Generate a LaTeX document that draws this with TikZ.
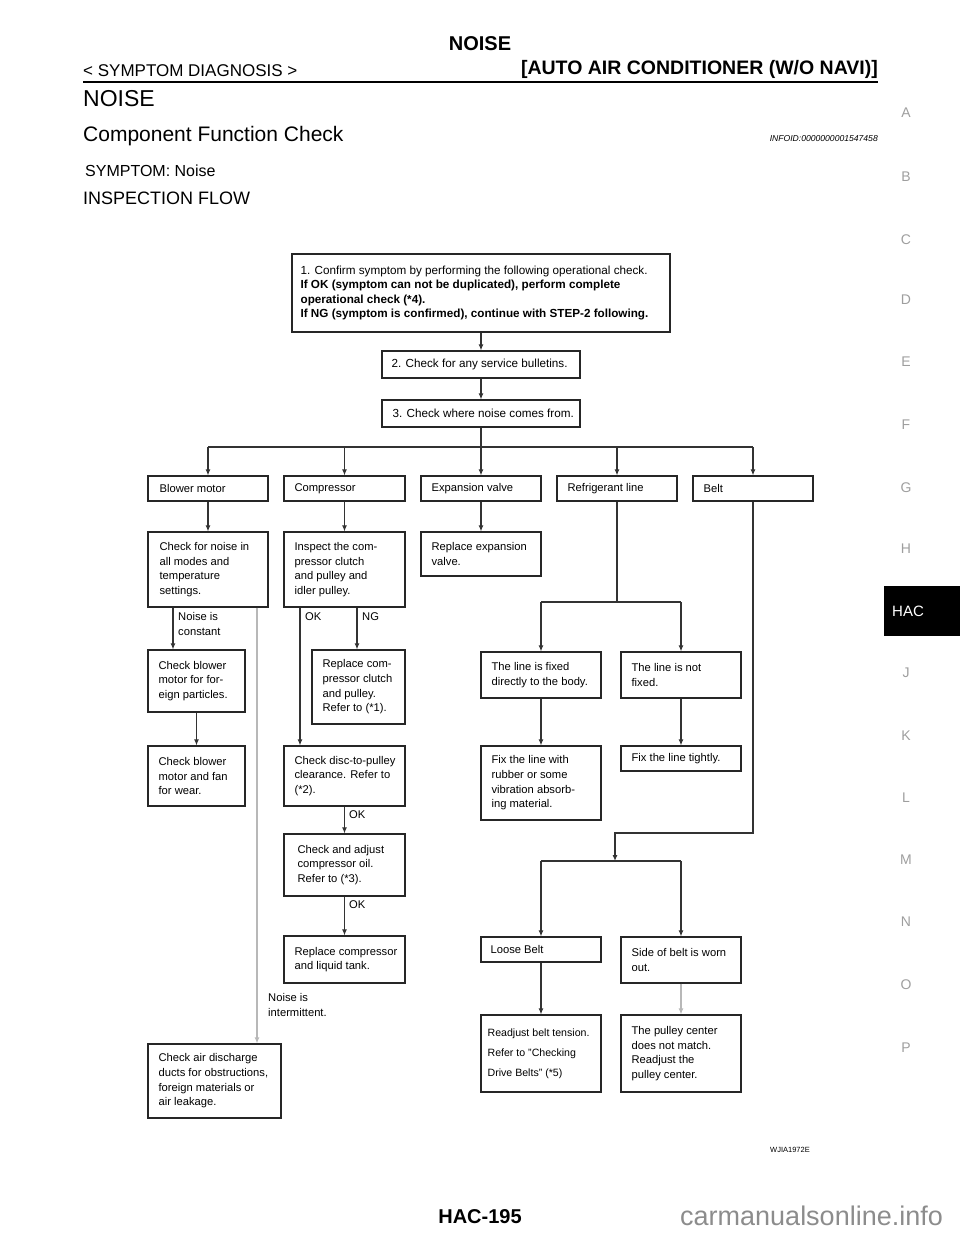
\documentclass[tikz,border=0pt]{standalone}
\usepackage{fontspec}
\setmainfont{Liberation Sans}
\usetikzlibrary{positioning,arrows.meta}

\begin{document}
\begin{tikzpicture}[x=1pt,y=-1pt,line join=miter,>={Latex[length=6pt,width=5pt]}]
  \tikzset{
    pagetext/.style={inner sep=0pt},
    flowbox/.style={draw=black!85,line width=1.2pt,inner sep=0pt},
    boxtext/.style={inner sep=0pt,align=left,font=\fontsize{11.2}{14.7}\selectfont},
    steptext/.style={boxtext,font=\fontsize{11.7}{14.6}\selectfont},
    flowline/.style={draw=black!80,line width=1.1pt},
    greyline/.style={draw=black!28,line width=1.1pt},
    sidetab/.style={text=black!38,font=\fontsize{14}{14}\selectfont},
  }
  \useasboundingbox (0,0) rectangle (960,1242);

  % ==================== header ====================
  \node[pagetext,anchor=base,font=\bfseries\fontsize{20}{20}\selectfont] (pgtitle) at (480,50.5) {NOISE};
  \node[pagetext,anchor=base west,font=\fontsize{17}{17}\selectfont] (section) at (83,76) {< SYMPTOM DIAGNOSIS >};
  \node[pagetext,anchor=base east,font=\bfseries\fontsize{19.5}{19.5}\selectfont] (manual) at (878,74) {[AUTO AIR CONDITIONER (W/O NAVI)]};
  \draw[line width=2.4pt] (83,82) -- (878,82);
  \node[pagetext,anchor=base west,font=\fontsize{23}{23}\selectfont] (noisehead) at (83,106) {NOISE};
  \node[pagetext,anchor=base west,font=\fontsize{21}{21}\selectfont] (cfc) at (83,141.5) {Component Function Check};
  \node[pagetext,anchor=base east,font=\itshape\fontsize{8.6}{8.6}\selectfont] (infoid) at (878,141) {INFOID:0000000001547458};
  \node[pagetext,anchor=base west,font=\fontsize{16}{16}\selectfont] (symptom) at (85,176) {SYMPTOM: Noise};
  \node[pagetext,anchor=base west,font=\fontsize{18}{18}\selectfont] (inspflow) at (83,204.5) {INSPECTION FLOW};

  % ==================== side tabs ====================
  \foreach \tabletter/\ty in {A/113,B/177,C/240,D/300,E/362,F/425,G/488,H/549,J/673,K/736,L/798,M/860,N/922,O/985,P/1048}
    \node[sidetab] (tab\tabletter) at (906,\ty) {\tabletter};
  \fill[black] (884,586) rectangle (960,636);
  \node[text=white,font=\fontsize{15}{15}\selectfont] (tabHAC) at (908,611) {HAC};

  % ==================== steps 1-3 ====================
  \node[flowbox,minimum width=378,minimum height=78] (step1) at (481,293) {};
  \node[steptext,right=9pt of step1.west] (step1txt)
    {1. Confirm symptom by performing the following operational check.\\
     \textbf{If OK (symptom can not be duplicated), perform complete}\\
     \textbf{operational check (*4).}\\
     \textbf{If NG (symptom is confirmed), continue with STEP-2 following.}};
  \node[flowbox,minimum width=198,minimum height=27] (step2) at (481,364.5) {};
  \node[steptext,right=10pt of step2.west] (step2txt) {2. Check for any service bulletins.};
  \node[flowbox,minimum width=198,minimum height=27] (step3) at (481,413.5) {};
  \node[steptext,right=11pt of step3.west] (step3txt) {3. Check where noise comes from.};

  % ==================== noise sources ====================
  \node[flowbox,minimum width=120,minimum height=25] (blower) at (208,488.5) {};
  \node[boxtext,right=12pt of blower.west] (blowertxt) {Blower motor};
  \node[flowbox,minimum width=121,minimum height=25] (comp) at (344.5,488.5) {};
  \node[boxtext,right=11pt of comp.west] (comptxt) {Compressor};
  \node[flowbox,minimum width=120,minimum height=25] (expv) at (481,488.5) {};
  \node[boxtext,right=11pt of expv.west] (expvtxt) {Expansion valve};
  \node[flowbox,minimum width=120,minimum height=25] (refl) at (617,488.5) {};
  \node[boxtext,right=11pt of refl.west] (refltxt) {Refrigerant line};
  \node[flowbox,minimum width=120,minimum height=25] (belt) at (753,488.5) {};
  \node[boxtext,right=11pt of belt.west] (belttxt) {Belt};

  % ==================== blower motor ====================
  \node[flowbox,minimum width=120,minimum height=75] (noisechk) at (208,569.5) {};
  \node[boxtext,right=12pt of noisechk.west] (noisechktxt) {Check for noise in\\all modes and\\temperature\\settings.};
  \node[flowbox,minimum width=97,minimum height=62] (particles) at (196.5,681) {};
  \node[boxtext,right=11pt of particles.west] (particlestxt) {Check blower\\motor for for-\\eign particles.};
  \node[flowbox,minimum width=97,minimum height=60] (wear) at (196.5,776) {};
  \node[boxtext,right=11pt of wear.west] (weartxt) {Check blower\\motor and fan\\for wear.};
  \node[flowbox,minimum width=133,minimum height=74] (airduct) at (214.5,1081) {};
  \node[boxtext,right=11pt of airduct.west] (airducttxt) {Check air discharge\\ducts for obstructions,\\foreign materials or\\air leakage.};

  % ==================== compressor ====================
  \node[flowbox,minimum width=121,minimum height=75] (inspect) at (344.5,569.5) {};
  \node[boxtext,right=11pt of inspect.west] (inspecttxt) {Inspect the com-\\pressor clutch\\and pulley and\\idler pulley.};
  \node[flowbox,minimum width=93,minimum height=74] (replclutch) at (358.5,687) {};
  \node[boxtext,right=11pt of replclutch.west] (replclutchtxt) {Replace com-\\pressor clutch\\and pulley.\\Refer to (*1).};
  \node[flowbox,minimum width=121,minimum height=60] (disc) at (344.5,776) {};
  \node[boxtext,right=11pt of disc.west] (disctxt) {Check disc-to-pulley\\clearance. Refer to\\(*2).};
  \node[flowbox,minimum width=121,minimum height=62] (oil) at (344.5,865) {};
  \node[boxtext,right=14pt of oil.west] (oiltxt) {Check and adjust\\compressor oil.\\Refer to (*3).};
  \node[flowbox,minimum width=121,minimum height=47] (tank) at (344.5,959.5) {};
  \node[boxtext,right=11pt of tank.west] (tanktxt) {Replace compressor\\and liquid tank.};

  % ==================== expansion valve / refrigerant line ====================
  \node[flowbox,minimum width=120,minimum height=44] (replexp) at (481,554) {};
  \node[boxtext,right=11pt of replexp.west] (replexptxt) {Replace expansion\\valve.};
  \node[flowbox,minimum width=120,minimum height=46] (fixed) at (541,675) {};
  \node[boxtext,right=11pt of fixed.west] (fixedtxt) {The line is fixed\\directly to the body.};
  \node[flowbox,minimum width=120,minimum height=46] (notfixed) at (681,675) {};
  \node[boxtext,right=11pt of notfixed.west] (notfixedtxt) {The line is not\\fixed.};
  \node[flowbox,minimum width=120,minimum height=74] (rubber) at (541,783) {};
  \node[boxtext,right=11pt of rubber.west] (rubbertxt) {Fix the line with\\rubber or some\\vibration absorb-\\ing material.};
  \node[flowbox,minimum width=120,minimum height=25] (tight) at (681,758.5) {};
  \node[boxtext,right=11pt of tight.west] (tighttxt) {Fix the line tightly.};

  % ==================== belt ====================
  \node[flowbox,minimum width=120,minimum height=25] (loose) at (541,949.5) {};
  \node[boxtext,right=10pt of loose.west] (loosetxt) {Loose Belt};
  \node[flowbox,minimum width=120,minimum height=46] (worn) at (681,960) {};
  \node[boxtext,right=11pt of worn.west] (worntxt) {Side of belt is worn\\out.};
  \node[flowbox,minimum width=120,minimum height=77] (readjust) at (541,1053.5) {};
  \node[boxtext,right=7pt of readjust.west,font=\fontsize{10.6}{20}\selectfont] (readjusttxt)
    {Readjust belt tension.\\Refer to "Checking\\Drive Belts" (*5)};
  \node[flowbox,minimum width=120,minimum height=77] (pulley) at (681,1053.5) {};
  \node[boxtext,right=11pt of pulley.west] (pulleytxt) {The pulley center\\does not match.\\Readjust the\\pulley center.};

  % ==================== connectors ====================
  \draw[flowline,->] (step1) -- (step2);
  \draw[flowline,->] (step2) -- (step3);
  \coordinate (split) at (481,447);
  \draw[flowline] (step3) -- (split);
  \draw[flowline] (blower |- split) -- (belt |- split);
  \foreach \part in {blower,comp,expv,refl,belt}
    \draw[flowline,->] (\part |- split) -- (\part.north);

  % blower motor
  \draw[flowline,->] (blower) -- (noisechk);
  \draw[flowline,->] ([xshift=-35pt]noisechk.south) -- ([xshift=-35pt]noisechk.south |- particles.north);
  \node[boxtext,anchor=west] (constant) at (178,624) {Noise is\\constant};
  \draw[flowline,->] (particles) -- (wear);
  \draw[greyline,->] ([xshift=49pt]noisechk.south) -- ([xshift=49pt]noisechk.south |- airduct.north);
  \node[boxtext,anchor=west] (intermittent) at (268,1005) {Noise is\\intermittent.};

  % compressor
  \draw[flowline,->] (comp) -- (inspect);
  \draw[flowline,->] ([xshift=-44.5pt]inspect.south) -- ([xshift=-44.5pt]inspect.south |- disc.north);
  \node[boxtext,anchor=west] (okclutch) at (305,617) {OK};
  \draw[flowline,->] ([xshift=12.5pt]inspect.south) -- ([xshift=12.5pt]inspect.south |- replclutch.north);
  \node[boxtext,anchor=west] (ngclutch) at (362,617) {NG};
  \draw[flowline,->] (disc) -- (oil);
  \node[boxtext,anchor=west] (okdisc) at (349,815) {OK};
  \draw[flowline,->] (oil) -- (tank);
  \node[boxtext,anchor=west] (okoil) at (349,905) {OK};

  % expansion valve / refrigerant line
  \draw[flowline,->] (expv) -- (replexp);
  \coordinate (reflsplit) at (617,602);
  \draw[flowline] (refl) -- (reflsplit);
  \draw[flowline] (fixed |- reflsplit) -- (notfixed |- reflsplit);
  \draw[flowline,->] (fixed |- reflsplit) -- (fixed.north);
  \draw[flowline,->] (notfixed |- reflsplit) -- (notfixed.north);
  \draw[flowline,->] (fixed) -- (rubber);
  \draw[flowline,->] (notfixed) -- (tight);

  % belt
  \coordinate (beltturn) at (753,833);
  \coordinate (beltsplit) at (615,861);
  \draw[flowline,->] (belt.south) -- (beltturn) -| (beltsplit);
  \draw[flowline] (loose |- beltsplit) -- (worn |- beltsplit);
  \draw[flowline,->] (loose |- beltsplit) -- (loose.north);
  \draw[flowline,->] (worn |- beltsplit) -- (worn.north);
  \draw[flowline,->] (loose) -- (readjust);
  \draw[greyline,->] (worn) -- (pulley);

  % ==================== footer ====================
  \node[pagetext,font=\fontsize{7.5}{7.5}\selectfont] (figid) at (790,1150) {WJIA1972E};
  \node[pagetext,anchor=base,font=\bfseries\fontsize{20}{20}\selectfont] (pageno) at (480,1223) {HAC-195};
  \node[pagetext,anchor=base west,text=black!45,font=\fontsize{27}{27}\selectfont] (watermark) at (680,1225) {carmanualsonline.info};
\end{tikzpicture}
\end{document}
